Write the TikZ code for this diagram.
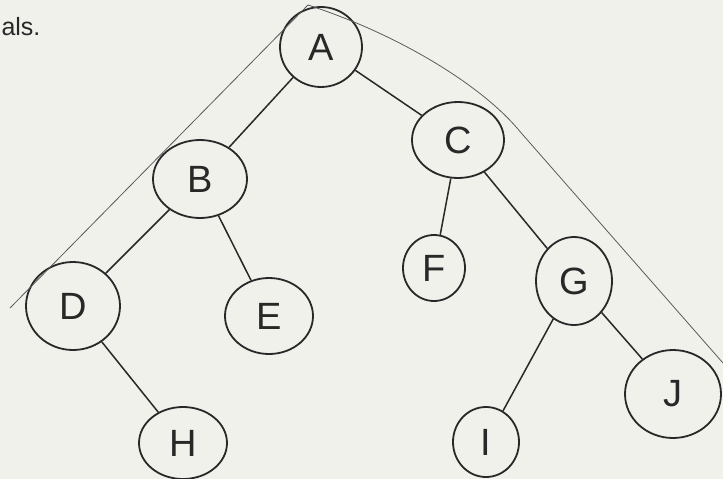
\documentclass[tikz,border=0pt]{standalone}
\usepackage{fontspec}
\setmainfont{Liberation Sans}
\usetikzlibrary{shapes.geometric}
\definecolor{paper}{RGB}{241,241,236}
\definecolor{pencil}{RGB}{40,40,40}
\definecolor{faint}{RGB}{90,90,90}
\begin{document}
\begin{tikzpicture}[x=1pt,y=-1pt,
  treenode/.style={ellipse, draw=pencil, line width=1.8pt, inner sep=0pt,
    text=pencil, font=\fontsize{38}{38}\selectfont},
  branch/.style={draw=pencil, line width=1.5pt},
  guide/.style={draw=faint, line width=0.8pt}]
\useasboundingbox (0,0) rectangle (723,479);
\fill[paper] (0,0) rectangle (723,479);
\node[anchor=west, text=pencil, font=\fontsize{25}{25}\selectfont] (txt) at (-2,27) {als.};
\node[treenode, minimum width=82pt, minimum height=80pt] (A) at (321,47) {A};
\node[treenode, minimum width=94pt, minimum height=78pt] (B) at (200,179) {B};
\node[treenode, minimum width=92pt, minimum height=76pt] (C) at (458,140) {C};
\node[treenode, minimum width=94pt, minimum height=88pt] (D) at (73,306) {D};
\node[treenode, minimum width=88pt, minimum height=76pt] (E) at (269,316) {E};
\node[treenode, minimum width=62pt, minimum height=66pt] (F) at (434,268) {F};
\node[treenode, minimum width=76pt, minimum height=88pt] (G) at (574,281) {G};
\node[treenode, minimum width=88pt, minimum height=72pt] (H) at (183,443) {H};
\node[treenode, minimum width=66pt, minimum height=70pt] (I) at (486,442) {I};
\node[treenode, minimum width=96pt, minimum height=88pt] (J) at (673,394) {J};
\draw[branch] (A) -- (B);
\draw[branch] (A) -- (C);
\draw[branch] (B) -- (D);
\draw[branch] (B) -- (E);
\draw[branch] (C) -- (F);
\draw[branch] (C) -- (G);
\draw[branch] (D) -- (H);
\draw[branch] (G) -- (I);
\draw[branch] (G) -- (J);
\coordinate (apex) at (308,5);
\coordinate (leftend) at (10,308);
\coordinate (arcend) at (517,128);
\coordinate (kink) at (523,135);
\coordinate (rightend) at (723,363);
\draw[guide] (apex) -- (leftend);
\draw[guide] (apex) .. controls (400,35) and (480,85) .. (arcend) -- (kink) -- (rightend);
\end{tikzpicture}
\end{document}
